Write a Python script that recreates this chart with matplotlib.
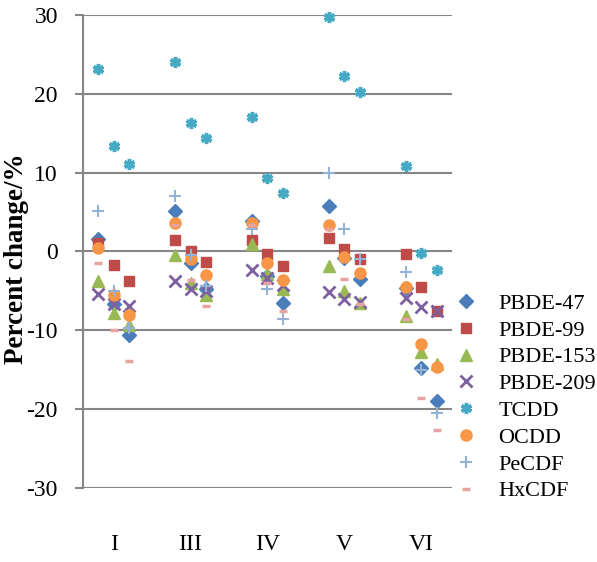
import numpy as np
import matplotlib
matplotlib.use('Agg')
import matplotlib.pyplot as plt

# groups of three measurements each
groups = ['I', 'III', 'IV', 'V', 'VI']
series = ['PBDE-47', 'PBDE-99', 'PBDE-153', 'PBDE-209', 'TCDD', 'OCDD', 'PeCDF', 'HxCDF']

pbde47  = [1.6, -6.6, -10.6,   5.1, -1.5, -4.7,   3.9, -3.1, -6.5,   5.8, -0.8, -3.5,  -4.6, -14.8, -19.0]
pbde99  = [1.1, -1.7, -3.8,    1.5, 0.1, -1.3,    1.4, -0.3, -1.8,   1.7, 0.3, -1.0,   -0.3, -4.5, -7.6]
pbde153 = [-3.8, -7.8, -9.3,   -0.4, -4.0, -5.5,  1.0, -2.8, -4.7,   -1.8, -5.0, -6.5, -8.2, -12.7, -14.3]
pbde209 = [-5.4, -6.6, -6.9,   -3.8, -4.7, -5.0,  -2.3, -3.3, -4.3,  -5.2, -6.0, -6.4, -5.9, -7.0, -7.6]
tcdd    = [23.1, 13.4, 11.1,   24.0, 16.3, 14.4,  17.0, 9.3, 7.4,    29.7, 22.2, 20.2, 10.9, -0.2, -2.3]
ocdd    = [0.4, -5.5, -8.1,    3.6, -1.0, -3.0,   3.6, -1.4, -3.6,   3.4, -0.7, -2.7,  -4.5, -11.7, -14.6]
pecdf   = [5.1, -5.0, -9.7,    7.0, -0.4, -4.4,   2.9, -4.7, -8.6,   10.0, 2.9, -0.9,  -2.6, -15.0, -20.5]
hxcdf   = [-1.5, -10.0, -13.9, 3.4, -3.6, -6.9,   3.4, -4.0, -7.6,   2.8, -3.5, -6.7,  -8.6, -18.6, -22.7]

data = [pbde47, pbde99, pbde153, pbde209, tcdd, ocdd, pecdf, hxcdf]
colors = ['#4A7EBB', '#BE4B48', '#98B954', '#7D60A0', '#46AAC5', '#F79646', '#95B3D7', '#E6A3A1']
markers = ['D', 's', '^', 'x', (6, 2, 0), 'o', '+', '_']
sizes = [7, 7.5, 8, 8, 8, 8, 9, 6]
mew = [1, 1, 1, 2, 2.5, 1, 1.5, 2.5]

plt.rcParams['font.family'] = ['Liberation Serif', 'DejaVu Serif']
plt.rcParams['axes.unicode_minus'] = False

fig = plt.figure(figsize=(5.97, 5.62), dpi=100)
ax = fig.add_axes([0.139, 0.1317, 0.618, 0.8416])

xs = np.array([g * 5 + j for g in range(len(groups)) for j in range(3)])
for name, vals, c, m, s, w in zip(series, data, colors, markers, sizes, mew):
    ax.plot(xs, vals, linestyle='none', marker=m, markersize=s, color=c,
            markeredgecolor=c, markeredgewidth=w, label=name, clip_on=False)

ax.set_xlim(-1, 23)
ax.set_ylim(-30, 30)
ax.set_yticks(range(-30, 31, 10))
ax.yaxis.grid(True, color='#868686', linewidth=1.5)
ax.set_axisbelow(True)
for sp in ['top', 'right', 'bottom']:
    ax.spines[sp].set_visible(False)
ax.spines['left'].set_color('#868686')
ax.spines['left'].set_linewidth(1.5)
ax.tick_params(axis='y', length=6, width=1.5, color='#868686', labelsize=17, pad=12)
ax.set_xticks([g * 5 + 1 for g in range(len(groups))])
ax.set_xticklabels(groups)
ax.tick_params(axis='x', length=0, labelsize=17, pad=33)

fig.text(17 / 597, 1 - 259 / 562, 'Percent change/%', rotation=90, fontsize=19.5,
         fontweight='bold', ha='center', va='center')

fig.legend(loc='upper left', bbox_to_anchor=(0.762, 0.478), frameon=False,
           fontsize=16, handletextpad=0.95, labelspacing=0.28, handlelength=1.0,
           borderaxespad=0, borderpad=0)

fig.savefig('out.png', dpi=100)
